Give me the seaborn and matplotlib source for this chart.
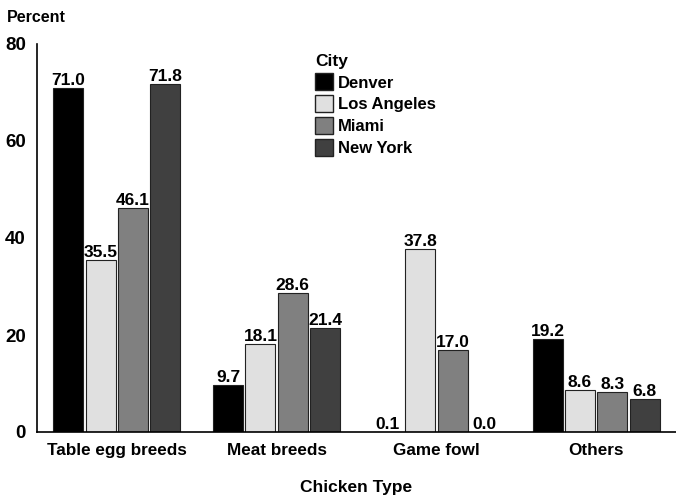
import matplotlib
matplotlib.use("Agg")
import matplotlib.pyplot as plt
import seaborn as sns
import pandas as pd
from matplotlib.patches import Patch

categories = ["Table egg breeds", "Meat breeds", "Game fowl", "Others"]
cities = ["Denver", "Los Angeles", "Miami", "New York"]
denver = [71.0, 9.7, 0.1, 19.2]
los_angeles = [35.5, 18.1, 37.8, 8.6]
miami = [46.1, 28.6, 17.0, 8.3]
new_york = [71.8, 21.4, 0.0, 6.8]
colors = ["#000000", "#e0e0e0", "#808080", "#404040"]

rows = []
for city, vals in zip(cities, [denver, los_angeles, miami, new_york]):
    for cat, v in zip(categories, vals):
        rows.append({"Chicken Type": cat, "City": city, "Percent": v})
df = pd.DataFrame(rows)

sns.set_style("white")
plt.rcParams['font.family'] = ['Liberation Sans', 'DejaVu Sans']
plt.rcParams['text.color'] = 'black'
plt.rcParams['axes.labelcolor'] = 'black'
plt.rcParams['xtick.color'] = 'black'
plt.rcParams['ytick.color'] = 'black'

fig = plt.figure(figsize=(6.76, 4.96), dpi=100)
ax = fig.add_axes([37/676, 64/496, 1 - 37/676, (432-44)/496])

sns.barplot(data=df, x="Chicken Type", y="Percent", hue="City",
            order=categories, hue_order=cities, palette=colors,
            width=0.81, gap=0.07, edgecolor="#222222", linewidth=0.8,
            ax=ax, legend=False)

for cont in ax.containers:
    ax.bar_label(cont, fmt="%.1f", padding=0, fontsize=12.5, fontweight="bold", color="black")

ax.set_ylim(0, 80)
ax.set_xlim(-0.5, 3.5)
ax.set_yticks([0, 20, 40, 60, 80])
ax.set_yticklabels(["0", "20", "40", "60", "80"], fontsize=13.5, fontweight="bold")
ax.set_xticks(range(4))
ax.set_xticklabels(categories, fontsize=12.3, fontweight="bold")
ax.tick_params(axis="x", length=0, pad=8)
ax.tick_params(axis="y", length=0, pad=8)
ax.set_ylabel("")
ax.set_xlabel("Chicken Type", fontsize=12.5, fontweight="bold", labelpad=16)
for s in ["top", "right"]:
    ax.spines[s].set_visible(False)
ax.spines["left"].set_color("black")
ax.spines["bottom"].set_color("black")
ax.spines["left"].set_linewidth(1.2)
ax.spines["bottom"].set_linewidth(1.2)

fig.text(7/676, 1 - 18/496, "Percent", fontsize=11.5, fontweight="bold", va="center", ha="left")

handles = [Patch(facecolor=c, edgecolor="#222222", label=n) for c, n in zip(colors, cities)]
leg = ax.legend(handles=handles, title="City", loc="upper left",
                bbox_to_anchor=(0.417, 1.005), frameon=False,
                prop={"size": 12, "weight": "bold"},
                title_fontproperties={"size": 12.5, "weight": "bold"},
                handlelength=1.1, handleheight=1.2, handletextpad=0.25,
                labelspacing=0.28, alignment="left", borderpad=0.2)

fig.savefig("out.png", dpi=100)
